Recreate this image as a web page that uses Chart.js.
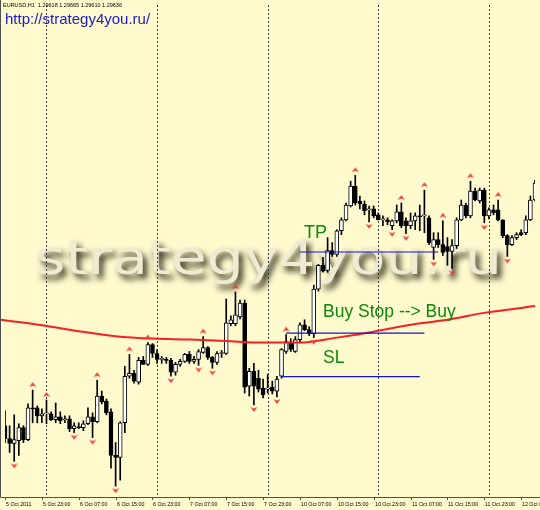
<!DOCTYPE html>
<html>
<head>
<meta charset="utf-8">
<script src="https://cdn.jsdelivr.net/npm/chart.js@4.4.0/dist/chart.umd.min.js"></script>
<style>
html,body{margin:0;padding:0;background:#fffacd;}
canvas{display:block;}
</style>
</head>
<body>
<canvas id="c" width="540" height="510"></canvas>
<script>
// EURUSD H1, 5 Oct 2011 15:00 .. 12 Oct 09:00, one value per bar
const open = [1.3465,1.3452,1.3447,1.3450,1.3463,1.3451,1.3483,1.3483,1.3475,1.3477,
1.3477,1.3471,1.3474,1.3471,1.3472,1.3462,1.3464,1.3463,1.3467,1.3474,
1.3469,1.3495,1.3490,1.3479,1.3435,1.3433,1.3468,1.3515,1.3518,1.3509,
1.3531,1.3527,1.3547,1.3538,1.3532,1.3532,1.3531,1.3519,1.3527,1.3530,
1.3537,1.3530,1.3532,1.3539,1.3544,1.3534,1.3529,1.3538,1.3538,1.3568,
1.3568,1.3575,1.3589,1.3505,1.3520,1.3513,1.3503,1.3502,1.3504,1.3500,
1.3515,1.3540,1.3549,1.3540,1.3552,1.3567,1.3562,1.3558,1.3603,1.3627,
1.3622,1.3642,1.3638,1.3662,1.3673,1.3687,1.3707,1.3692,1.3689,1.3683,
1.3684,1.3678,1.3673,1.3673,1.3667,1.3672,1.3681,1.3672,1.3667,1.3672,
1.3677,1.3677,1.3675,1.3645,1.3653,1.3648,1.3646,1.3641,1.3647,1.3673,
1.3688,1.3677,1.3702,1.3692,1.3703,1.3677,1.3683,1.3683,1.3673,1.3657,
1.3648,1.3655,1.3660,1.3660,1.3673,1.3693];
const high = [1.3480,1.3465,1.3476,1.3467,1.3465,1.3487,1.3501,1.3485,1.3482,1.3491,
1.3479,1.3488,1.3479,1.3475,1.3475,1.3468,1.3468,1.3470,1.3483,1.3478,
1.3511,1.3500,1.3492,1.3482,1.3448,1.3469,1.3525,1.3537,1.3521,1.3534,
1.3535,1.3549,1.3548,1.3542,1.3535,1.3534,1.3533,1.3529,1.3532,1.3538,
1.3540,1.3535,1.3542,1.3555,1.3545,1.3535,1.3540,1.3541,1.3593,1.3576,
1.3600,1.3592,1.3592,1.3523,1.3528,1.3521,1.3512,1.3517,1.3510,1.3515,
1.3543,1.3557,1.3553,1.3555,1.3569,1.3572,1.3565,1.3607,1.3628,1.3635,
1.3655,1.3650,1.3663,1.3675,1.3690,1.3712,1.3718,1.3697,1.3692,1.3687,
1.3687,1.3680,1.3677,1.3675,1.3673,1.3688,1.3690,1.3675,1.3680,1.3680,
1.3688,1.3703,1.3677,1.3660,1.3660,1.3672,1.3655,1.3653,1.3675,1.3693,
1.3690,1.3712,1.3705,1.3705,1.3705,1.3685,1.3688,1.3693,1.3673,1.3658,
1.3657,1.3660,1.3663,1.3677,1.3697,1.3713];
const low = [1.3448,1.3438,1.3429,1.3435,1.3448,1.3450,1.3468,1.3468,1.3468,1.3467,
1.3470,1.3468,1.3467,1.3468,1.3459,1.3458,1.3462,1.3460,1.3466,1.3453,
1.3468,1.3487,1.3476,1.3422,1.3404,1.3410,1.3458,1.3513,1.3508,1.3507,
1.3527,1.3526,1.3534,1.3528,1.3528,1.3528,1.3515,1.3516,1.3525,1.3529,
1.3528,1.3528,1.3526,1.3538,1.3532,1.3523,1.3527,1.3534,1.3537,1.3566,
1.3566,1.3573,1.3498,1.3495,1.3486,1.3499,1.3493,1.3498,1.3497,1.3494,
1.3513,1.3538,1.3540,1.3539,1.3550,1.3561,1.3556,1.3554,1.3601,1.3620,
1.3620,1.3636,1.3636,1.3658,1.3672,1.3686,1.3688,1.3684,1.3678,1.3671,
1.3675,1.3673,1.3667,1.3668,1.3663,1.3670,1.3665,1.3659,1.3664,1.3663,
1.3662,1.3660,1.3648,1.3633,1.3645,1.3637,1.3627,1.3624,1.3644,1.3672,
1.3675,1.3675,1.3692,1.3690,1.3670,1.3674,1.3678,1.3672,1.3655,1.3636,
1.3647,1.3653,1.3657,1.3658,1.3672,1.3692];
const close = [1.3452,1.3447,1.3451,1.3463,1.3451,1.3483,1.3482,1.3475,1.3477,1.3477,
1.3471,1.3474,1.3470,1.3472,1.3462,1.3465,1.3463,1.3467,1.3474,1.3469,
1.3495,1.3489,1.3478,1.3435,1.3433,1.3468,1.3515,1.3518,1.3510,1.3531,
1.3527,1.3547,1.3538,1.3532,1.3532,1.3531,1.3519,1.3527,1.3530,1.3537,
1.3530,1.3532,1.3540,1.3544,1.3534,1.3529,1.3538,1.3538,1.3569,1.3572,
1.3577,1.3589,1.3504,1.3520,1.3505,1.3502,1.3496,1.3502,1.3500,1.3512,
1.3542,1.3550,1.3542,1.3552,1.3567,1.3562,1.3558,1.3603,1.3627,1.3621,
1.3642,1.3638,1.3662,1.3673,1.3688,1.3707,1.3690,1.3689,1.3682,1.3684,
1.3677,1.3673,1.3673,1.3671,1.3672,1.3681,1.3667,1.3667,1.3672,1.3677,
1.3676,1.3677,1.3650,1.3653,1.3648,1.3640,1.3641,1.3647,1.3673,1.3688,
1.3677,1.3702,1.3693,1.3703,1.3677,1.3683,1.3680,1.3673,1.3657,1.3648,
1.3655,1.3658,1.3658,1.3673,1.3693,1.3710];

// fractals (bar index)
const fractUp = [6,9,20,27,31,43,50,61,76,86,91,95,101,107];
const fractDown = [2,15,19,24,36,42,45,54,59,67,79,84,87,93,97,104,109];

// moving average, read at some bars
const maBars = [-1,8,16,24,32,40,48,56,64,72,80,88,96,104,112,115];
const maVals = [1.3572,1.35665,1.35605,1.35555,1.3553,1.3552,1.35505,1.3549,1.3549,1.3554,1.3560,1.3567,1.3572,1.3579,1.3584,1.3586];

// order levels: price, first bar, last bar
const tpLevel = 1.36405, tpBars = [64, 94];
const buyLevel = 1.35585, buyBars = [61, 91];
const slLevel = 1.35145, slBars = [60, 90];

const tickBars = [0,8,16,24,32,40,48,56,64,72,80,88,96,104,112];
const tickLabels = ['5 Oct 2011','5 Oct 23:00','6 Oct 07:00','6 Oct 15:00','6 Oct 23:00','7 Oct 07:00','7 Oct 15:00','7 Oct 23:00','10 Oct 07:00','10 Oct 15:00','10 Oct 23:00','11 Oct 07:00','11 Oct 15:00','11 Oct 23:00','12 Oct 07:00'];
const daySeps = [9,33,57,81,105];

const header = 'EURUSD,H1  1.29618 1.29665 1.29610 1.29636';
const siteUrl = 'http://strategy4you.ru/';
const watermark = 'strategy4you.ru';

function makeArrow(up){
  const c = document.createElement('canvas');
  c.width = 8; c.height = 22;
  const g = c.getContext('2d');
  g.fillStyle = '#f03a3a';
  g.beginPath();
  if(up){ g.moveTo(4,3); g.lineTo(7.5,8); g.lineTo(4,6.5); g.lineTo(0.5,8); }
  else { g.moveTo(4,18); g.lineTo(7.5,13); g.lineTo(4,14.5); g.lineTo(0.5,13); }
  g.closePath(); g.fill();
  return c;
}

const bars = open.map((_, i) => i);
const seg = (lvl, r) => [{x:r[0], y:lvl}, {x:r[1], y:lvl}];

const decor = {
  id: 'decor',
  beforeDraw(chart){
    const ctx = chart.ctx;
    ctx.save();
    ctx.fillStyle = '#fffacd';
    ctx.fillRect(0,0,chart.width,chart.height);
    ctx.restore();
  },
  beforeDatasetsDraw(chart){
    const {ctx, chartArea:a, scales:{x}} = chart;
    ctx.save();
    ctx.font = '48px "DejaVu Sans"';
    const w = ctx.measureText(watermark).width;
    ctx.translate(35, 274);
    ctx.scale(467/w, 1);
    ctx.shadowColor = 'rgba(30,30,10,0.95)';
    ctx.shadowBlur = 6; ctx.shadowOffsetX = 4; ctx.shadowOffsetY = 5;
    ctx.fillStyle = '#efebd3';
    ctx.fillText(watermark, 0, 0);
    ctx.restore();

    ctx.save();
    ctx.strokeStyle = '#404040';
    ctx.lineWidth = 1;
    ctx.setLineDash([2,2]);
    daySeps.forEach(b=>{
      const px = Math.round(x.getPixelForValue(b)) + 0.5;
      ctx.beginPath(); ctx.moveTo(px, a.top); ctx.lineTo(px, a.bottom); ctx.stroke();
    });
    ctx.restore();
  },
  afterDraw(chart){
    const {ctx, chartArea:a, scales:{x}} = chart;
    ctx.save();
    ctx.strokeStyle = '#505050';
    ctx.lineWidth = 1;
    ctx.beginPath();
    ctx.moveTo(0.5, 0); ctx.lineTo(0.5, a.bottom + 0.5); ctx.lineTo(chart.width, a.bottom + 0.5);
    ctx.stroke();
    ctx.fillStyle = '#000';
    ctx.font = '5.3px "Liberation Sans"';
    ctx.textBaseline = 'alphabetic';
    tickBars.forEach((b, k)=>{
      const px = Math.round(x.getPixelForValue(b)) + 0.5;
      ctx.beginPath(); ctx.moveTo(px, a.bottom); ctx.lineTo(px, a.bottom + 3); ctx.stroke();
      ctx.fillText(tickLabels[k], px + 0.5, 506);
    });
    ctx.font = '5.5px "Liberation Sans"';
    ctx.fillText(header, 3, 7);
    ctx.fillStyle = '#1a1acd';
    ctx.font = '15px "Liberation Sans"';
    ctx.fillText(siteUrl, 5, 24);
    ctx.fillStyle = '#0a8a0a';
    ctx.font = '18px "Liberation Sans"';
    ctx.fillText('TP', 304, 238);
    ctx.font = '17.5px "Liberation Sans"';
    ctx.fillText('Buy Stop --> Buy', 323, 317);
    ctx.fillText('SL', 323, 363);
    ctx.restore();
  }
};

new Chart(document.getElementById('c'), {
  type: 'bar',
  data: {
    datasets: [
      { type:'line', data: fractUp.map(i=>({x:i, y:high[i]})), showLine:false, pointStyle: makeArrow(true), pointRadius:3, order:0 },
      { type:'line', data: fractDown.map(i=>({x:i, y:low[i]})), showLine:false, pointStyle: makeArrow(false), pointRadius:3, order:0 },
      { type:'line', data: seg(tpLevel, tpBars), borderColor:'#1414c8', borderWidth:1.2, pointRadius:0, order:1 },
      { type:'line', data: seg(buyLevel, buyBars), borderColor:'#1414c8', borderWidth:1.2, pointRadius:0, order:1 },
      { type:'line', data: seg(slLevel, slBars), borderColor:'#1414c8', borderWidth:1.2, pointRadius:0, order:1 },
      { type:'line', data: maBars.map((b,k)=>({x:b, y:maVals[k]})), borderColor:'#f52020', borderWidth:2, pointRadius:0, tension:0.4, cubicInterpolationMode:'monotone', clip:false, order:2 },
      { data: bars.map(i=>({x:i, y:[open[i], close[i]]})),
        backgroundColor: c => close[c.dataIndex] >= open[c.dataIndex] ? '#ffffff' : '#000000',
        borderColor:'#000', borderWidth:1, borderSkipped:false, barThickness:4, minBarLength:1, grouped:false, order:3 },
      { data: bars.map(i=>({x:i, y:[low[i], high[i]]})), backgroundColor:'#000', borderWidth:0, barThickness:1, grouped:false, order:4 }
    ]
  },
  options: {
    responsive:false,
    animation:false,
    devicePixelRatio:1,
    layout:{ padding:{ left:2, right:1, top:0, bottom:13 } },
    scales:{
      x:{ type:'linear', min:0, max:115, offset:false, display:false },
      y:{ min:1.3393, max:1.3890, display:false }
    },
    plugins:{ legend:{display:false}, tooltip:{enabled:false} }
  },
  plugins:[decor]
});
</script>
</body>
</html>
